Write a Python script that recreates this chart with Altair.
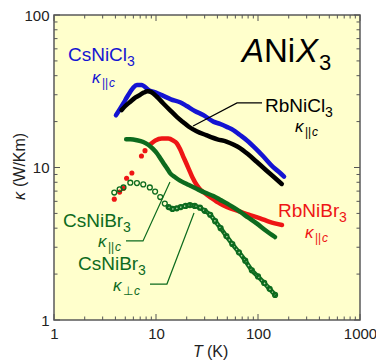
import altair as alt
import pandas as pd

# ---------------- data ----------------
cscl_T = [4.05, 4.4, 4.8, 5.2, 5.6, 6.0, 6.5, 7.2, 8.6, 10, 11.8, 14, 17.2, 20, 24, 29, 36.5, 42.4, 50, 57.3, 66, 77.5, 95, 113, 140, 165, 180]
cscl_k = [22, 24, 26.4, 29, 31.4, 33.5, 34.8, 34.8, 32, 31, 29.5, 28, 26.8, 25.3, 23.5, 22.1, 20, 19.3, 18.4, 17.6, 16.4, 15.1, 13.3, 11.8, 10.1, 9.2, 8.7]

rbcl_T = [4.6, 5.0, 5.6, 6.3, 7.0, 7.6, 8.3, 9.0, 10.2, 11.8, 13.7, 16, 18.5, 21, 25, 31, 40, 49, 58, 66.6, 80, 97, 120, 145, 171]
rbcl_k = [23.8, 25.3, 27, 28.8, 30, 31, 31.6, 31.2, 29.1, 26.3, 23.8, 21.5, 19.8, 18.5, 17.3, 16.3, 15.3, 14.8, 14.1, 13.4, 12.2, 10.9, 9.6, 8.6, 7.8]

rbbr_dot_T = [3.9, 4.4, 4.8, 5.15, 5.8, 7.2, 7.8]
rbbr_dot_k = [6.2, 6.9, 7.3, 8.5, 9.2, 11.9, 12.9]
rbbr_T = [8.7, 9.8, 11.4, 13.2, 14.8, 16, 17.2, 18.5, 20, 21.5, 23, 25, 27, 30, 34, 42.4, 50, 66.6, 85, 105, 130, 172]
rbbr_k = [14.1, 15.0, 15.5, 15.5, 15.0, 14.4, 13.2, 11.8, 10.5, 9.4, 8.5, 7.7, 7.2, 6.8, 6.4, 5.8, 5.5, 5.13, 4.85, 4.64, 4.4, 4.2]

csbr_par_T = [5.1, 5.6, 6.5, 7.5, 8.4, 9.3, 10.2, 11.0, 11.8, 12.8, 13.7, 15.5, 17.2, 20, 25, 30, 36.5, 42.4, 50, 58, 66.6, 80, 97, 120, 147]
csbr_par_k = [15.3, 15.3, 15.1, 14.7, 14.1, 13.3, 12.4, 11.5, 10.7, 9.9, 9.2, 8.6, 8.2, 7.8, 7.25, 6.85, 6.5, 6.15, 5.8, 5.45, 5.13, 4.7, 4.3, 3.85, 3.5]

csbr_perp_T = [3.9, 4.4, 4.8, 5.6, 6.5, 7.5, 8.7, 9.8, 11.0, 12.2, 13.3, 14.5, 16, 17.5, 19.5, 21.5, 24, 27, 30, 34, 38, 43, 49, 56, 65, 75, 87, 100, 115, 130, 147]
csbr_perp_k = [6.85, 7.2, 7.4, 7.95, 7.9, 7.75, 7.4, 6.95, 6.4, 5.8, 5.5, 5.35, 5.4, 5.5, 5.6, 5.67, 5.6, 5.45, 5.2, 4.9, 4.45, 4.0, 3.55, 3.15, 2.78, 2.45, 2.12, 1.93, 1.75, 1.6, 1.46]

x_major = [1, 10, 100, 1000]
x_minor = [2, 3, 4, 5, 6, 7, 8, 9, 20, 30, 40, 50, 60, 70, 80, 90, 200, 300, 400, 500, 600, 700, 800, 900]
y_major = [1, 10, 100]
y_minor = [2, 3, 4, 5, 6, 7, 8, 9, 20, 30, 40, 50, 60, 70, 80, 90]

# ---------------- style ----------------
FONT = "Liberation Sans"
W, H = 306, 305
BLUE, BLACK, RED, GREEN = "#1414D2", "#000000", "#EE1515", "#0D6B1E"

xs = alt.Scale(type="log", domain=[1, 1000])
ys = alt.Scale(type="log", domain=[1, 100])
xax = alt.Axis(values=x_major, format="d", title=None, ticks=False, tickSize=0, domain=False,
               grid=False, labelFont=FONT, labelFontSize=15, labelColor="#222222",
               labelPadding=6, labelFlush=False, labelOverlap=False)
yax = alt.Axis(values=y_major, format="d", title=None, ticks=False, tickSize=0, domain=False,
               grid=False, labelFont=FONT, labelFontSize=15, labelColor="#222222",
               labelPadding=5, labelFlush=False, labelOverlap=False)
X = alt.X("T:Q", scale=xs, axis=xax)
Y = alt.Y("k:Q", scale=ys, axis=yax)


def df(T, k):
    return pd.DataFrame({"T": T, "k": k})


def line(T, k, color, width=4.5, dash=None):
    kw = dict(color=color, strokeWidth=width, interpolate="monotone",
              strokeCap="round", strokeJoin="round")
    if dash:
        kw["strokeDash"] = dash
        kw["strokeCap"] = "butt"
    return alt.Chart(df(T, k)).mark_line(**kw).encode(x=X, y=Y)


layers = []
# ticks (inward, all four sides)
for vals, ln in ((x_major, 6), (x_minor, 3.5)):
    d = pd.DataFrame({"T": vals})
    layers.append(alt.Chart(d).mark_rule(color="#555555", strokeWidth=1).encode(
        x=X, y=alt.value(H), y2=alt.value(H - ln)))
    layers.append(alt.Chart(d).mark_rule(color="#555555", strokeWidth=1).encode(
        x=X, y=alt.value(0), y2=alt.value(ln)))
for vals, ln in ((y_major, 6), (y_minor, 3.5)):
    d = pd.DataFrame({"k": vals})
    layers.append(alt.Chart(d).mark_rule(color="#555555", strokeWidth=1).encode(
        y=Y, x=alt.value(0), x2=alt.value(ln)))
    layers.append(alt.Chart(d).mark_rule(color="#555555", strokeWidth=1).encode(
        y=Y, x=alt.value(W), x2=alt.value(W - ln)))

# data series
layers.append(line(cscl_T, cscl_k, BLUE))
layers.append(line(rbcl_T, rbcl_k, BLACK))
layers.append(line(rbbr_T, rbbr_k, RED))
layers.append(alt.Chart(df(rbbr_dot_T, rbbr_dot_k)).mark_circle(color=RED, size=26, opacity=1).encode(x=X, y=Y))
layers.append(line(csbr_par_T, csbr_par_k, GREEN))
perp_dense = [(t, k) for t, k in zip(csbr_perp_T, csbr_perp_k) if t >= 13.3]
pdT = [p[0] for p in perp_dense]
pdk = [p[1] for p in perp_dense]
layers.append(line(pdT, pdk, GREEN, 4.5))
layers.append(line(pdT, pdk, "#B9D9A8", 1.4, dash=[1.5, 2.5]))
layers.append(alt.Chart(df(csbr_perp_T, csbr_perp_k)).mark_point(
    shape="circle", color=GREEN, filled=False, size=24, strokeWidth=1.3, opacity=1).encode(x=X, y=Y))

# leader lines
lead = pd.DataFrame({
    "g": ["a", "a", "a", "b", "b", "b", "c", "c", "c"],
    "o": [0, 1, 2, 0, 1, 2, 0, 1, 2],
    "T": [109.5, 62.3, 23.1, 5.08, 7.46, 13.7, 8.73, 12.8, 23.6],
    "k": [26.5, 26.5, 18.7, 3.30, 3.30, 8.03, 1.72, 1.72, 5.03],
    "c": [BLACK, BLACK, BLACK, GREEN, GREEN, GREEN, GREEN, GREEN, GREEN],
})
layers.append(alt.Chart(lead).mark_line(strokeWidth=1.2).encode(
    x=X, y=Y, detail="g:N", order="o:Q", color=alt.Color("c:N", scale=None)))


# labels: anchor (T, k) at left baseline; fragments (text, size, italic, dx, dy)
def kappa(dx, dy, sym, symw):
    return [("κ", 17, True, dx, dy), (sym, 12, False, dx + 10, dy + 4),
            ("c", 12, True, dx + 10 + symw, dy + 4)]


labels = [
    (1.37, 49.9, BLUE, [("CsNiCl", 19, False, 0, 0), ("3", 14, False, 59, 5)] + kappa(24, 22, "||", 7)),
    (117, 23.1, BLACK, [("RbNiCl", 19, False, 0, 0), ("3", 14, False, 60, 5)] + kappa(30, 20, "||", 7)),
    (69.7, 49.2, BLACK, [("A", 33, True, 0, 0), ("Ni", 33, False, 22, 0),
                         ("X", 33, True, 54, 0), ("3", 22, False, 77, 8)]),
    (157, 4.74, RED, [("RbNiBr", 19, False, 0, 0), ("3", 14, False, 61, 5)] + kappa(27, 21, "||", 7)),
    (1.225, 4.07, GREEN, [("CsNiBr", 19, False, 0, 0), ("3", 14, False, 60, 5)] + kappa(35, 20, "||", 7)),
    (1.72, 2.13, GREEN, [("CsNiBr", 19, False, 0, 0), ("3", 14, False, 60, 5)] + kappa(35, 21, "⊥", 11)),
]
for T0, k0, col, frags in labels:
    d = df([T0], [k0])
    for txt, sz, it, dx, dy in frags:
        layers.append(alt.Chart(d).mark_text(
            text=txt, font=FONT, fontSize=sz, fontStyle="italic" if it else "normal",
            color=col, align="left", baseline="alphabetic", dx=dx, dy=dy).encode(x=X, y=Y))

# axis titles
one = pd.DataFrame({"a": [0]})
layers.append(alt.Chart(one).mark_text(text="κ", font=FONT, fontSize=16, fontStyle="italic",
                                       angle=270, align="left", baseline="middle", color="#222222").encode(
    x=alt.value(-34), y=alt.value(185)))
layers.append(alt.Chart(one).mark_text(text="(W/Km)", font=FONT, fontSize=16,
                                       angle=270, align="left", baseline="middle", color="#222222").encode(
    x=alt.value(-34), y=alt.value(172)))
layers.append(alt.Chart(one).mark_text(text="T", font=FONT, fontSize=16, fontStyle="italic",
                                       align="left", baseline="alphabetic", color="#222222").encode(
    x=alt.value(139), y=alt.value(342)))
layers.append(alt.Chart(one).mark_text(text="(K)", font=FONT, fontSize=16,
                                       align="left", baseline="alphabetic", color="#222222").encode(
    x=alt.value(153), y=alt.value(342)))

chart = alt.layer(*layers).properties(
    width=W, height=H,
    autosize=alt.AutoSizeParams(type="none"),
    padding={"left": 54, "top": 15, "right": 16, "bottom": 42},
    background="white",
).configure_view(fill="#FFFFCC", stroke="#5A5A5A", strokeWidth=1.5)

chart.save("out.html", embed_options={"renderer": "svg", "actions": False})
